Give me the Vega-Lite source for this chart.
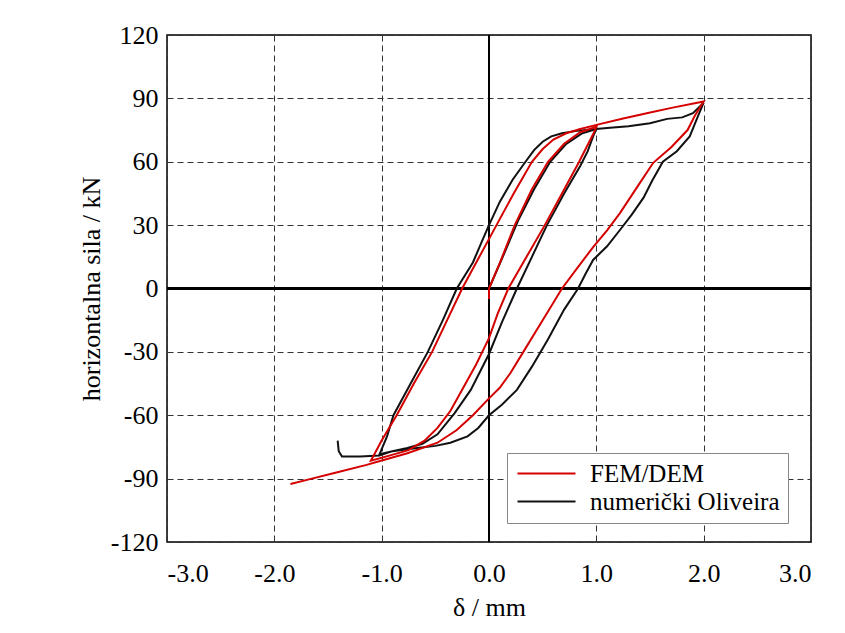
{
  "$schema": "https://vega.github.io/schema/vega-lite/v6.json",
  "width": 644,
  "height": 507,
  "autosize": {"type": "none"},
  "padding": {"left": 167, "top": 35, "right": 34, "bottom": 91},
  "background": "white",
  "config": {
    "view": {"stroke": "black", "strokeWidth": 1.5},
    "font": "Liberation Serif, Times New Roman, serif",
    "axis": {
      "domain": false,
      "ticks": false,
      "grid": true,
      "gridColor": "#333",
      "gridDash": [6, 4],
      "gridWidth": 1,
      "labelFont": "Liberation Serif, Times New Roman, serif",
      "labelFontSize": 26,
      "labelColor": "black",
      "titleFont": "Liberation Serif, Times New Roman, serif",
      "titleFontSize": 26,
      "titleFontWeight": "normal",
      "titleColor": "black"
    }
  },
  "data": {
    "values": [
      {"s": "numerički Oliveira", "i": 1, "x": 0.0, "y": 0},
      {"s": "numerički Oliveira", "i": 2, "x": 0.12, "y": 14},
      {"s": "numerički Oliveira", "i": 3, "x": 0.27, "y": 32},
      {"s": "numerički Oliveira", "i": 4, "x": 0.42, "y": 47},
      {"s": "numerički Oliveira", "i": 5, "x": 0.57, "y": 60},
      {"s": "numerički Oliveira", "i": 6, "x": 0.72, "y": 68.5},
      {"s": "numerički Oliveira", "i": 7, "x": 0.87, "y": 73.5},
      {"s": "numerički Oliveira", "i": 8, "x": 1.0, "y": 75.5},
      {"s": "numerički Oliveira", "i": 9, "x": 0.97, "y": 72},
      {"s": "numerički Oliveira", "i": 10, "x": 0.92, "y": 65},
      {"s": "numerički Oliveira", "i": 11, "x": 0.85, "y": 58},
      {"s": "numerički Oliveira", "i": 12, "x": 0.7, "y": 45},
      {"s": "numerički Oliveira", "i": 13, "x": 0.54, "y": 30},
      {"s": "numerički Oliveira", "i": 14, "x": 0.4, "y": 15},
      {"s": "numerički Oliveira", "i": 15, "x": 0.26, "y": 0},
      {"s": "numerički Oliveira", "i": 16, "x": 0.12, "y": -16},
      {"s": "numerički Oliveira", "i": 17, "x": 0.0, "y": -31},
      {"s": "numerički Oliveira", "i": 18, "x": -0.17, "y": -48},
      {"s": "numerički Oliveira", "i": 19, "x": -0.32, "y": -59},
      {"s": "numerički Oliveira", "i": 20, "x": -0.48, "y": -69},
      {"s": "numerički Oliveira", "i": 21, "x": -0.62, "y": -73.5},
      {"s": "numerički Oliveira", "i": 22, "x": -0.76, "y": -75.5},
      {"s": "numerički Oliveira", "i": 23, "x": -0.9, "y": -77},
      {"s": "numerički Oliveira", "i": 24, "x": -1.02, "y": -78.5},
      {"s": "numerički Oliveira", "i": 25, "x": -1.0, "y": -76},
      {"s": "numerički Oliveira", "i": 26, "x": -0.95, "y": -70},
      {"s": "numerički Oliveira", "i": 27, "x": -0.89, "y": -60},
      {"s": "numerički Oliveira", "i": 28, "x": -0.73, "y": -45},
      {"s": "numerički Oliveira", "i": 29, "x": -0.57, "y": -30},
      {"s": "numerički Oliveira", "i": 30, "x": -0.43, "y": -15},
      {"s": "numerički Oliveira", "i": 31, "x": -0.3, "y": 0},
      {"s": "numerički Oliveira", "i": 32, "x": -0.15, "y": 12.3},
      {"s": "numerički Oliveira", "i": 33, "x": -0.06, "y": 23},
      {"s": "numerički Oliveira", "i": 34, "x": 0.0, "y": 30},
      {"s": "numerički Oliveira", "i": 35, "x": 0.1, "y": 41},
      {"s": "numerički Oliveira", "i": 36, "x": 0.22, "y": 51.5},
      {"s": "numerički Oliveira", "i": 37, "x": 0.34, "y": 60},
      {"s": "numerički Oliveira", "i": 38, "x": 0.42, "y": 65.5},
      {"s": "numerički Oliveira", "i": 39, "x": 0.5, "y": 69.5},
      {"s": "numerički Oliveira", "i": 40, "x": 0.58, "y": 72},
      {"s": "numerički Oliveira", "i": 41, "x": 0.68, "y": 73.5},
      {"s": "numerički Oliveira", "i": 42, "x": 0.8, "y": 74.5},
      {"s": "numerički Oliveira", "i": 43, "x": 0.95, "y": 75.3},
      {"s": "numerički Oliveira", "i": 44, "x": 1.1, "y": 76},
      {"s": "numerički Oliveira", "i": 45, "x": 1.3, "y": 76.8},
      {"s": "numerički Oliveira", "i": 46, "x": 1.5, "y": 78.2},
      {"s": "numerički Oliveira", "i": 47, "x": 1.66, "y": 80.3},
      {"s": "numerički Oliveira", "i": 48, "x": 1.8, "y": 81},
      {"s": "numerički Oliveira", "i": 49, "x": 1.9, "y": 83},
      {"s": "numerički Oliveira", "i": 50, "x": 2.0, "y": 88},
      {"s": "numerički Oliveira", "i": 51, "x": 1.95, "y": 82},
      {"s": "numerički Oliveira", "i": 52, "x": 1.87, "y": 72},
      {"s": "numerički Oliveira", "i": 53, "x": 1.75, "y": 65},
      {"s": "numerički Oliveira", "i": 54, "x": 1.62, "y": 60},
      {"s": "numerički Oliveira", "i": 55, "x": 1.52, "y": 51},
      {"s": "numerički Oliveira", "i": 56, "x": 1.44, "y": 43},
      {"s": "numerički Oliveira", "i": 57, "x": 1.33, "y": 35},
      {"s": "numerički Oliveira", "i": 58, "x": 1.22, "y": 27.7},
      {"s": "numerički Oliveira", "i": 59, "x": 1.1, "y": 20},
      {"s": "numerički Oliveira", "i": 60, "x": 0.97, "y": 13.5},
      {"s": "numerički Oliveira", "i": 61, "x": 0.9, "y": 7},
      {"s": "numerički Oliveira", "i": 62, "x": 0.83, "y": 0},
      {"s": "numerički Oliveira", "i": 63, "x": 0.7, "y": -10},
      {"s": "numerički Oliveira", "i": 64, "x": 0.55, "y": -24},
      {"s": "numerički Oliveira", "i": 65, "x": 0.4, "y": -37},
      {"s": "numerički Oliveira", "i": 66, "x": 0.26, "y": -48},
      {"s": "numerički Oliveira", "i": 67, "x": 0.12, "y": -55},
      {"s": "numerički Oliveira", "i": 68, "x": 0.0, "y": -60},
      {"s": "numerički Oliveira", "i": 69, "x": -0.1, "y": -66},
      {"s": "numerički Oliveira", "i": 70, "x": -0.2, "y": -70},
      {"s": "numerički Oliveira", "i": 71, "x": -0.36, "y": -73},
      {"s": "numerički Oliveira", "i": 72, "x": -0.5, "y": -74.5},
      {"s": "numerički Oliveira", "i": 73, "x": -0.67, "y": -75.5},
      {"s": "numerički Oliveira", "i": 74, "x": -0.9, "y": -77},
      {"s": "numerički Oliveira", "i": 75, "x": -1.02, "y": -79},
      {"s": "numerički Oliveira", "i": 76, "x": -1.2, "y": -79.5},
      {"s": "numerički Oliveira", "i": 77, "x": -1.37, "y": -79.5},
      {"s": "numerički Oliveira", "i": 78, "x": -1.4, "y": -77},
      {"s": "numerički Oliveira", "i": 79, "x": -1.41, "y": -72},

      {"s": "FEM/DEM", "i": 1, "x": 0.0, "y": -5},
      {"s": "FEM/DEM", "i": 2, "x": 0.0, "y": 0},
      {"s": "FEM/DEM", "i": 3, "x": 0.1, "y": 12},
      {"s": "FEM/DEM", "i": 4, "x": 0.24, "y": 30},
      {"s": "FEM/DEM", "i": 5, "x": 0.4, "y": 47},
      {"s": "FEM/DEM", "i": 6, "x": 0.55, "y": 60},
      {"s": "FEM/DEM", "i": 7, "x": 0.7, "y": 68.5},
      {"s": "FEM/DEM", "i": 8, "x": 0.85, "y": 74},
      {"s": "FEM/DEM", "i": 9, "x": 1.0, "y": 76.5},
      {"s": "FEM/DEM", "i": 10, "x": 0.97, "y": 73},
      {"s": "FEM/DEM", "i": 11, "x": 0.9, "y": 66},
      {"s": "FEM/DEM", "i": 12, "x": 0.84, "y": 60},
      {"s": "FEM/DEM", "i": 13, "x": 0.68, "y": 45},
      {"s": "FEM/DEM", "i": 14, "x": 0.52, "y": 30},
      {"s": "FEM/DEM", "i": 15, "x": 0.35, "y": 15},
      {"s": "FEM/DEM", "i": 16, "x": 0.18, "y": 0},
      {"s": "FEM/DEM", "i": 17, "x": 0.08, "y": -12},
      {"s": "FEM/DEM", "i": 18, "x": 0.0, "y": -23.5},
      {"s": "FEM/DEM", "i": 19, "x": -0.12, "y": -36},
      {"s": "FEM/DEM", "i": 20, "x": -0.24, "y": -47},
      {"s": "FEM/DEM", "i": 21, "x": -0.36, "y": -58},
      {"s": "FEM/DEM", "i": 22, "x": -0.48, "y": -66},
      {"s": "FEM/DEM", "i": 23, "x": -0.6, "y": -72},
      {"s": "FEM/DEM", "i": 24, "x": -0.75, "y": -76.5},
      {"s": "FEM/DEM", "i": 25, "x": -0.92, "y": -79},
      {"s": "FEM/DEM", "i": 26, "x": -1.1, "y": -81.5},
      {"s": "FEM/DEM", "i": 27, "x": -1.0, "y": -72},
      {"s": "FEM/DEM", "i": 28, "x": -0.86, "y": -60},
      {"s": "FEM/DEM", "i": 29, "x": -0.7, "y": -45},
      {"s": "FEM/DEM", "i": 30, "x": -0.53, "y": -30},
      {"s": "FEM/DEM", "i": 31, "x": -0.39, "y": -15},
      {"s": "FEM/DEM", "i": 32, "x": -0.25, "y": 0},
      {"s": "FEM/DEM", "i": 33, "x": -0.09, "y": 15},
      {"s": "FEM/DEM", "i": 34, "x": 0.07, "y": 30},
      {"s": "FEM/DEM", "i": 35, "x": 0.23, "y": 45},
      {"s": "FEM/DEM", "i": 36, "x": 0.4, "y": 60},
      {"s": "FEM/DEM", "i": 37, "x": 0.5, "y": 66},
      {"s": "FEM/DEM", "i": 38, "x": 0.6, "y": 70.5},
      {"s": "FEM/DEM", "i": 39, "x": 0.72, "y": 73.5},
      {"s": "FEM/DEM", "i": 40, "x": 0.85, "y": 75.5},
      {"s": "FEM/DEM", "i": 41, "x": 1.03, "y": 77.8},
      {"s": "FEM/DEM", "i": 42, "x": 1.25, "y": 80.5},
      {"s": "FEM/DEM", "i": 43, "x": 1.47, "y": 83},
      {"s": "FEM/DEM", "i": 44, "x": 1.7, "y": 85.5},
      {"s": "FEM/DEM", "i": 45, "x": 2.0, "y": 88.5},
      {"s": "FEM/DEM", "i": 46, "x": 1.92, "y": 82},
      {"s": "FEM/DEM", "i": 47, "x": 1.85, "y": 75},
      {"s": "FEM/DEM", "i": 48, "x": 1.7, "y": 67},
      {"s": "FEM/DEM", "i": 49, "x": 1.53, "y": 59.5},
      {"s": "FEM/DEM", "i": 50, "x": 1.38, "y": 48},
      {"s": "FEM/DEM", "i": 51, "x": 1.22, "y": 35.7},
      {"s": "FEM/DEM", "i": 52, "x": 1.1, "y": 27.5},
      {"s": "FEM/DEM", "i": 53, "x": 0.97, "y": 19.6},
      {"s": "FEM/DEM", "i": 54, "x": 0.82, "y": 9.5},
      {"s": "FEM/DEM", "i": 55, "x": 0.68, "y": 0},
      {"s": "FEM/DEM", "i": 56, "x": 0.5, "y": -15},
      {"s": "FEM/DEM", "i": 57, "x": 0.32, "y": -30},
      {"s": "FEM/DEM", "i": 58, "x": 0.2, "y": -40},
      {"s": "FEM/DEM", "i": 59, "x": 0.1, "y": -47},
      {"s": "FEM/DEM", "i": 60, "x": 0.0, "y": -52},
      {"s": "FEM/DEM", "i": 61, "x": -0.15, "y": -60},
      {"s": "FEM/DEM", "i": 62, "x": -0.3, "y": -67},
      {"s": "FEM/DEM", "i": 63, "x": -0.48, "y": -73},
      {"s": "FEM/DEM", "i": 64, "x": -0.76, "y": -78},
      {"s": "FEM/DEM", "i": 65, "x": -1.04, "y": -82},
      {"s": "FEM/DEM", "i": 66, "x": -1.14, "y": -83.5},
      {"s": "FEM/DEM", "i": 67, "x": -1.45, "y": -87.5},
      {"s": "FEM/DEM", "i": 68, "x": -1.65, "y": -90},
      {"s": "FEM/DEM", "i": 69, "x": -1.85, "y": -92.5}
    ]
  },
  "layer": [
    {
      "mark": {"type": "rule", "color": "black", "strokeWidth": 2},
      "encoding": {"x": {"datum": 0, "type": "quantitative"}}
    },
    {
      "mark": {"type": "rule", "color": "black", "strokeWidth": 2},
      "encoding": {"y": {"datum": 0, "type": "quantitative"}}
    },
    {
      "mark": {"type": "line", "strokeWidth": 2, "clip": true},
      "encoding": {
        "x": {
          "field": "x", "type": "quantitative",
          "scale": {"domain": [-3, 3], "nice": false, "zero": false},
          "axis": {
            "values": [-3, -2, -1, 0, 1, 2, 3],
            "labelExpr": "replace(format(datum.value, '.1f'), '\u2212', '-')",
            "labelPadding": 18,
            "title": "δ / mm",
            "titlePadding": 8
          }
        },
        "y": {
          "field": "y", "type": "quantitative",
          "scale": {"domain": [-120, 120], "nice": false, "zero": false},
          "axis": {
            "values": [-120, -90, -60, -30, 0, 30, 60, 90, 120],
            "labelExpr": "replace(format(datum.value, 'd'), '\u2212', '-')",
            "labelPadding": 9,
            "title": "horizontalna sila / kN",
            "titlePadding": 6
          }
        },
        "order": {"field": "i"},
        "color": {
          "field": "s", "type": "nominal",
          "scale": {"domain": ["FEM/DEM", "numerički Oliveira"], "range": ["#d40000", "#111111"]},
          "legend": {
            "title": null,
            "orient": "none",
            "legendX": 340,
            "legendY": 418,
            "symbolType": "M-1,0L4.8,0",
            "symbolSize": 400,
            "symbolStrokeWidth": 2,
            "labelFont": "Liberation Serif, Times New Roman, serif",
            "labelFontSize": 25,
            "labelColor": "black",
            "labelLimit": 400,
            "labelOffset": 50,
            "fillColor": "white",
            "strokeColor": "#888",
            "padding": 8,
            "rowPadding": 2
          }
        }
      }
    }
  ]
}
